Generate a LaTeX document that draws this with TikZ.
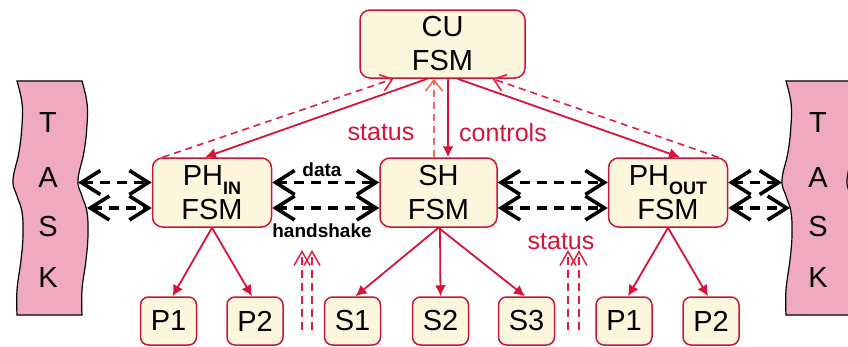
\documentclass[tikz,border=0pt]{standalone}
\usepackage{fontspec}
\setmainfont{Liberation Sans}
\usetikzlibrary{arrows.meta}
\definecolor{boxfill}{HTML}{FCF7DC}
\definecolor{boxline}{HTML}{C8163A}
\definecolor{sigred}{HTML}{D41438}
\definecolor{dashred}{HTML}{E21E3E}
\definecolor{salmon}{HTML}{EE6B5C}
\definecolor{taskpink}{HTML}{F0AAC0}
\newcommand{\bigtext}{\fontsize{29}{34}\selectfont}
\newcommand{\subtext}[1]{\raisebox{-9pt}{\fontsize{18}{18}\selectfont\bfseries #1}}
\begin{document}
\begin{tikzpicture}[x=1pt,y=-1pt,
  fsm/.style={draw=boxline, fill=boxfill, line width=1.5pt, rounded corners=10pt,
    minimum width=119pt, minimum height=69pt, align=center, inner sep=0pt, font=\bigtext},
  leaf/.style={draw=boxline, fill=boxfill, line width=1.5pt, rounded corners=8pt,
    minimum width=56pt, minimum height=48pt, inner sep=0pt, font=\bigtext},
  tasklabel/.style={font=\bigtext, inner sep=0pt},
  taskshape/.style={draw=black, fill=taskpink, line width=1.2pt},
  ctl/.style={draw=sigred, line width=1.8pt, -{Latex[length=11pt,width=11pt]}},
  stat/.style={draw=dashred, line width=1.6pt, dash pattern=on 7pt off 5pt,
    -{Straight Barb[length=11pt,width=17pt,line width=1.6pt]}},
  statv/.style={stat, draw=salmon},
  upstat/.style={draw=dashred, line width=1.5pt, dash pattern=on 8pt off 5pt,
    -{Straight Barb[length=14pt,width=16pt,line width=1.5pt]}},
  bus/.style={draw=black, line width=3.6pt, dash pattern=on 10pt off 7pt,
    {Straight Barb[length=19pt,width=24pt,line width=3.6pt]}-{Straight Barb[length=19pt,width=24pt,line width=3.6pt]}},
  buslabel/.style={font=\fontsize{19}{19}\selectfont\bfseries, inner sep=0pt},
  siglabel/.style={font=\fontsize{25}{25}\selectfont, text=sigred, inner sep=0pt}]
\useasboundingbox (0,0) rectangle (848,346);

% task bands at both sides
\draw[taskshape] (17,81) -- (82,81)
  -- plot[smooth, tension=0.7] coordinates {(82,81) (87,103) (87,125) (84,152) (78,180) (82,196) (87,212) (88,235) (86,260) (82,290) (82,315)}
  -- (17,315)
  -- plot[smooth, tension=0.7] coordinates {(17,315) (17,290) (21,260) (23,235) (22,212) (17,196) (13,180) (19,152) (22,125) (22,103) (17,81)}
  -- cycle;
\draw[taskshape] (786,81) -- (851,81)
  -- plot[smooth, tension=0.7] coordinates {(851,81) (856,103) (856,125) (853,152) (847,180) (851,196) (856,212) (857,235) (855,260) (851,290) (851,315)}
  -- (786,315)
  -- plot[smooth, tension=0.7] coordinates {(786,315) (786,290) (790,260) (792,235) (791,212) (786,196) (782,180) (788,152) (791,125) (791,103) (786,81)}
  -- cycle;
\foreach \ch/\yy [count=\i] in {T/123,A/178,S/227,K/278} {
  \node[tasklabel] (taskL\i) at (48,\yy) {\ch};
  \node[tasklabel] (taskR\i) at (818,\yy) {\ch};
}
\coordinate (tl1) at (78,182.5);
\coordinate (tl2) at (87,208);
\coordinate (tr1) at (782,182.5);
\coordinate (tr2) at (790,208);

% state machines
\node[fsm, minimum width=165pt, minimum height=68pt] (cu) at (442.5,44) {CU\\FSM};
\node[fsm] (phin) at (212,192.5) {PH\subtext{IN}\\FSM};
\node[fsm, minimum width=117pt] (sh) at (438.5,192.5) {SH\\FSM};
\node[fsm] (phout) at (668,192.5) {PH\subtext{OUT}\\FSM};

% processing elements
\node[leaf] (p1a) at (168.5,321) {P1};
\node[leaf] (p2a) at (255,321) {P2};
\node[leaf] (s1) at (352.5,321) {S1};
\node[leaf] (s2) at (440.5,321) {S2};
\node[leaf] (s3) at (526.5,321) {S3};
\node[leaf] (p1b) at (624,321) {P1};
\node[leaf] (p2b) at (711,321) {P2};

% data / handshake buses
\draw[bus] (tl1) -- ([yshift=10pt]phin.west);
\draw[bus] (tl2) -- ([yshift=-15.5pt]phin.west);
\draw[bus] ([yshift=10pt]phin.east) -- ([yshift=10pt]sh.west);
\draw[bus] ([yshift=-15.5pt]phin.east) -- ([yshift=-15.5pt]sh.west);
\draw[bus] ([yshift=10pt]sh.east) -- ([yshift=10pt]phout.west);
\draw[bus] ([yshift=-15.5pt]sh.east) -- ([yshift=-15.5pt]phout.west);
\draw[bus] ([yshift=10pt]phout.east) -- (tr1);
\draw[bus] ([yshift=-15.5pt]phout.east) -- (tr2);
\node[buslabel] (lbldata) at (322,170) {data};
\node[buslabel] (lblhs) at (322,231) {handshake};

% control unit links
\draw[ctl] ([xshift=-15pt]cu.south) -- ([xshift=-7pt]phin.north);
\draw[stat] ([xshift=11pt]phin.north west) -- ([xshift=-49pt]cu.south);
\draw[ctl] ([xshift=15pt]cu.south) -- ([xshift=12pt]phout.north);
\draw[stat] ([xshift=-10pt]phout.north east) -- ([xshift=50pt]cu.south);
\draw[ctl] ([xshift=5.5pt]cu.south) -- ([xshift=9.5pt]sh.north);
\draw[statv] ([xshift=-4.5pt]sh.north) -- ([xshift=-8.5pt]cu.south);
\node[siglabel] (lblstat) at (381,133) {status};
\node[siglabel] (lblctl) at (503,133) {controls};

% fan-out to processing elements
\draw[ctl] (phin.south) -- ([xshift=4pt]p1a.north);
\draw[ctl] (phin.south) -- ([xshift=-3pt]p2a.north);
\draw[ctl] (sh.south) -- ([xshift=3pt]s1.north);
\draw[ctl] ([xshift=1.5pt]sh.south) -- (s2.north);
\draw[ctl] (sh.south) -- ([xshift=-1.5pt]s3.north);
\draw[ctl] (phout.south) -- ([xshift=4pt]p1b.north);
\draw[ctl] (phout.south) -- ([xshift=-3pt]p2b.north);

% status returns from the processing elements
\coordinate (ua1) at (302,330); \coordinate (ub1) at (302,250);
\coordinate (ua2) at (312,330); \coordinate (ub2) at (312,250);
\coordinate (ua3) at (568,330); \coordinate (ub3) at (568,250);
\coordinate (ua4) at (579,330); \coordinate (ub4) at (579,250);
\node[siglabel] (lblstat2) at (561,242) {status};
\foreach \i in {1,...,4} \draw[upstat] (ua\i) -- (ub\i);
\end{tikzpicture}
\end{document}
